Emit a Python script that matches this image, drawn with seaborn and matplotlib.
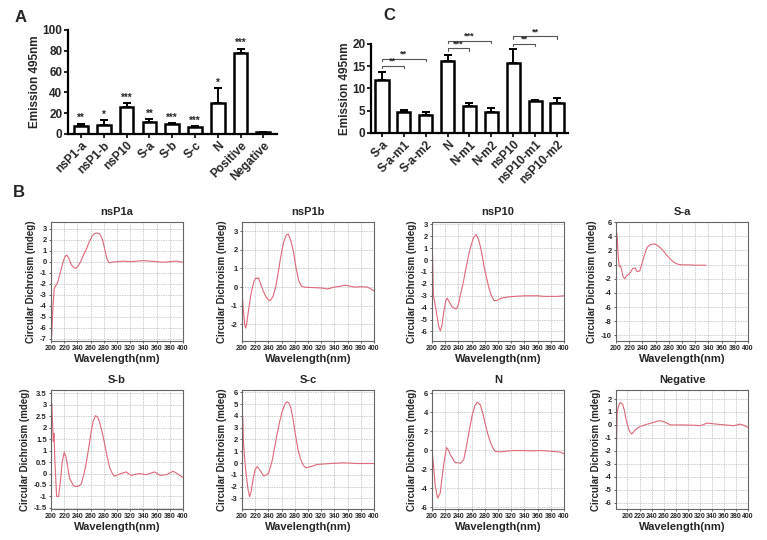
import numpy as np
import pandas as pd
import matplotlib
matplotlib.use("Agg")
import matplotlib.pyplot as plt
import seaborn as sns

# ---- Panel A data ----
a_labels = ["nsP1-a", "nsP1-b", "nsP10", "S-a", "S-b", "S-c", "N", "Positive", "Negative"]
a_means = [8.0, 9.0, 25.5, 11.5, 9.5, 6.5, 29.5, 78.0, 1.5]
a_errs = [2.0, 4.0, 4.0, 3.0, 1.0, 1.0, 14.5, 4.0, 0.5]
a_stars = ["**", "*", "***", "**", "***", "***", "*", "***", ""]

# ---- Panel C data ----
c_labels = ["S-a", "S-a-m1", "S-a-m2", "N", "N-m1", "N-m2", "nsP10", "nsP10-m1", "nsP10-m2"]
c_means = [12.0, 4.8, 4.0, 16.2, 6.0, 4.8, 15.8, 7.1, 6.7]
c_errs = [1.7, 0.3, 0.7, 1.4, 0.8, 0.9, 3.0, 0.4, 1.2]
c_pairs = [(0, 1), (0, 2), (3, 4), (3, 5), (6, 7), (6, 8)]
c_bracket_y = [15.0, 16.6, 19.0, 20.7, 20.0, 21.7]
c_bracket_stars = ["**", "**", "***", "***", "**", "**"]

# ---- Panel B data (CD spectra) ----
nsp1a_wl = [201, 203, 205, 207, 209, 211, 214, 218, 221, 224, 227, 231, 235, 238, 241, 245, 250, 254, 258,
            262, 266, 270, 274, 278, 282, 285, 288, 292, 300, 310, 320, 330, 340, 350, 360, 370, 380, 390, 400]
nsp1a_cd = [-6.8, -4.0, -2.4, -2.2, -2.0, -1.7, -1.0, -0.1, 0.45, 0.6, 0.3, -0.3, -0.55, -0.6, -0.4, 0.0, 0.7,
            1.2, 1.8, 2.3, 2.55, 2.6, 2.5, 2.0, 1.0, 0.2, -0.1, -0.05, 0.0, 0.05, 0.0, 0.05, 0.1, 0.05, 0.0,
            -0.05, 0.0, 0.05, -0.05]

nsp1b_wl = [200, 202, 204, 205.5, 207, 210, 214, 218, 221, 223, 225, 228, 232, 236, 240, 243, 247, 251, 255,
            259, 263, 267, 270, 274, 278, 282, 286, 290, 294, 300, 310, 320, 330, 340, 350, 355, 360, 370, 380,
            390, 395, 400]
nsp1b_cd = [-0.3, -1.2, -2.0, -2.2, -2.0, -1.2, -0.3, 0.3, 0.5, 0.45, 0.5, 0.2, -0.2, -0.5, -0.7, -0.72, -0.5,
            0.0, 0.8, 1.7, 2.4, 2.8, 2.85, 2.5, 1.9, 1.0, 0.35, 0.05, 0.0, -0.02, -0.03, -0.05, -0.1, 0.0, 0.05,
            0.1, 0.08, 0.0, 0.02, 0.0, -0.1, -0.2]

nsp10_wl = [200, 201, 202, 204, 207, 210, 212.5, 215, 218, 221, 223, 226, 230, 234, 237, 240, 244, 247, 251,
            255, 259, 263, 267, 270, 273, 276, 279, 282, 286, 290, 294, 298, 305, 315, 325, 340, 350, 360, 370,
            380, 390, 400]
nsp10_cd = [1.1, 0.0, -2.9, -3.5, -4.5, -5.5, -5.95, -5.5, -4.3, -3.4, -3.2, -3.5, -3.9, -4.05, -4.1, -3.7,
            -2.7, -2.0, -0.8, 0.3, 1.2, 1.9, 2.15, 1.8, 1.2, 0.4, -0.6, -1.3, -2.3, -3.0, -3.4, -3.4, -3.2, -3.1,
            -3.05, -3.0, -3.0, -3.0, -3.05, -3.05, -3.05, -3.0]

sa_wl = [200, 200.5, 201, 202, 203.5, 205, 207, 209, 211, 213.5, 216, 219, 222, 225, 229, 232, 236, 239, 242,
         245, 248, 252, 256, 260, 264, 268, 272, 276, 280, 284, 288, 292, 296, 300, 310, 320, 330, 336]
sa_cd = [-7.0, 0.0, 4.4, 3.5, 1.0, -0.3, -0.2, -1.0, -1.8, -2.0, -1.6, -1.4, -1.1, -0.6, -0.5, -1.0, -0.9, 0.0,
         1.0, 1.9, 2.5, 2.8, 2.9, 2.85, 2.6, 2.3, 1.9, 1.4, 1.0, 0.6, 0.3, 0.1, 0.0, -0.05, -0.05, -0.1, -0.1,
         -0.1]

sb_wl = [200, 201, 202, 203.5, 204.5, 206, 208.5, 211.5, 214, 217, 220, 223, 228, 234, 238, 242, 246, 250, 253,
         257, 261, 264, 267.5, 271, 274, 278, 281, 285, 289, 293, 296, 304, 314, 321, 334, 344, 357, 365, 375,
         385, 392, 400]
sb_cd = [2.0, 3.07, 2.5, 1.4, 1.75, 0.5, -1.0, -1.0, -0.4, 0.5, 0.93, 0.7, -0.2, -0.53, -0.57, -0.55, -0.45,
         0.0, 0.38, 1.1, 1.85, 2.3, 2.53, 2.45, 2.2, 1.75, 1.33, 0.75, 0.24, 0.0, -0.12, -0.02, 0.07, -0.08,
         0.0, -0.05, 0.07, -0.08, -0.05, 0.1, -0.02, -0.17]

sc_wl = [200, 201, 202, 203.5, 206, 209, 211.5, 214, 217, 220, 223, 228, 233, 237, 240.5, 245.5, 249, 253, 257,
         261, 265, 268, 271, 274, 277, 281, 285, 289, 293, 297, 301, 307, 314, 334, 354, 375, 400]
sc_cd = [1.3, 4.0, 2.0, 0.7, -0.8, -2.2, -2.85, -2.4, -1.3, -0.55, -0.3, -0.68, -1.1, -1.0, -0.83, 0.16, 1.2,
         2.4, 3.5, 4.4, 5.0, 5.2, 5.1, 4.7, 3.8, 2.4, 1.1, 0.3, -0.2, -0.4, -0.35, -0.25, -0.12, -0.04, 0.02,
         -0.04, -0.04]

n_wl = [200, 202, 205, 208.5, 212.5, 215, 218, 222, 225, 228, 235, 243, 248, 251, 254, 257, 261, 265, 268.5,
        273, 277, 281, 285, 289, 293, 296, 304, 324, 349, 365, 385, 395, 400]
n_cd = [0.0, -1.4, -3.8, -5.05, -4.5, -3.0, -1.37, 0.28, 0.0, -0.5, -1.3, -1.37, -1.0, 0.0, 1.09, 2.3, 3.72,
        4.7, 5.05, 4.8, 3.9, 2.67, 1.6, 0.74, 0.15, -0.14, -0.17, -0.03, -0.07, -0.04, -0.14, -0.2, -0.39]

neg_wl = [181, 182, 183, 185.5, 188, 192, 195, 197.5, 203, 207, 211, 214, 222, 233, 244, 250, 255, 263, 271,
          288, 310, 321, 332, 348, 365, 376, 387, 395, 400]
neg_cd = [-5.5, -1.0, 1.0, 1.5, 1.74, 1.6, 1.1, 0.45, -0.45, -0.7, -0.5, -0.32, -0.1, 0.06, 0.2, 0.3, 0.32, 0.2,
          0.0, 0.0, -0.02, -0.06, 0.14, 0.06, -0.01, -0.06, 0.06, -0.06, -0.2]

cd_titles = ["nsP1a", "nsP1b", "nsP10", "S-a", "S-b", "S-c", "N", "Negative"]
cd_wls = [nsp1a_wl, nsp1b_wl, nsp10_wl, sa_wl, sb_wl, sc_wl, n_wl, neg_wl]
cd_vals = [nsp1a_cd, nsp1b_cd, nsp10_cd, sa_cd, sb_cd, sc_cd, n_cd, neg_cd]
cd_yticks = [np.arange(-7, 4, 1), np.arange(-2, 4, 1), np.arange(-6, 4, 1), np.arange(-10, 7, 2),
             np.arange(-1.5, 3.6, 0.5), np.arange(-3, 7, 1), np.arange(-6, 7, 2), np.arange(-6, 3, 1)]
cd_ylims = [(-7.2, 3.6), (-2.9, 3.5), (-6.8, 3.2), (-10.8, 6.0), (-1.55, 3.65), (-3.9, 6.2), (-6.2, 6.35),
            (-6.5, 2.7)]
cd_xlims = [(200, 400)] * 7 + [(181, 400)]

sns.set_theme(style="ticks")
plt.rcParams["font.family"] = ["Liberation Sans", "DejaVu Sans"]
plt.rcParams["font.weight"] = "bold"

W, H = 767, 540
fig = plt.figure(figsize=(W / 100, H / 100), dpi=100)


def px_axes(left, top, width, height):
    return fig.add_axes([left / W, 1 - (top + height) / H, width / W, height / H])


def bar_panel(ax, labels, means, errs, width):
    df = pd.DataFrame({"name": labels, "value": means})
    sns.barplot(data=df, x="name", y="value", ax=ax, color="white", edgecolor="black",
                linewidth=1.8, width=width, errorbar=None)
    x = np.arange(len(labels))
    ax.errorbar(x, means, yerr=[np.zeros(len(errs)), errs], fmt="none", ecolor="black",
                elinewidth=1.4, capsize=3, capthick=1.4)
    for s in ["top", "right"]:
        ax.spines[s].set_visible(False)
    for s in ["left", "bottom"]:
        ax.spines[s].set_linewidth(1.6)
        ax.spines[s].set_color("black")
    ax.set_xlabel("")
    ax.set_ylabel("Emission 495nm", fontsize=8.5, fontweight="bold", labelpad=1)
    ax.tick_params(axis="both", width=1.4, length=3, pad=1)
    ax.set_xticks(x)
    ax.set_xticklabels(labels, rotation=45, ha="right", rotation_mode="anchor", fontsize=8.5,
                       fontweight="bold")


# ---- Panel A ----
axA = px_axes(68, 30, 209, 104)
bar_panel(axA, a_labels, a_means, a_errs, 0.6)
axA.set_ylim(0, 100)
axA.set_yticks([0, 20, 40, 60, 80, 100])
axA.set_yticklabels(["0", "20", "40", "60", "80", "100"], fontsize=8.5, fontweight="bold")
axA.set_xlim(-0.57, 8.6)
for i, s in enumerate(a_stars):
    if s:
        axA.text(i, a_means[i] + a_errs[i] + 0.5, s, ha="center", va="bottom", fontsize=7)

# ---- Panel C ----
axC = px_axes(371, 44, 197, 89)
bar_panel(axC, c_labels, c_means, c_errs, 0.6)
axC.set_ylim(0, 20)
axC.set_yticks([0, 5, 10, 15, 20])
axC.set_yticklabels(["0", "5", "10", "15", "20"], fontsize=8.5, fontweight="bold")
axC.set_xlim(-0.5, 8.5)
for (i, j), yb, s in zip(c_pairs, c_bracket_y, c_bracket_stars):
    axC.plot([i, i, j, j], [yb - 0.5, yb, yb, yb - 0.5], color="#555555", lw=0.8, clip_on=False)
    axC.text((i + j) / 2, yb + 0.05, s, ha="center", va="bottom", fontsize=6.5, clip_on=False)

# ---- Panel B ----
cd_lefts = [51, 242, 432, 616]
cd_tops = [222, 390]
for k in range(8):
    r, c = divmod(k, 4)
    ax = px_axes(cd_lefts[c], cd_tops[r], 132, 119)
    sns.lineplot(x=cd_wls[k], y=cd_vals[k], ax=ax, color="#e06878", lw=0.8, sort=False)
    ax.set_xlim(*cd_xlims[k])
    ax.set_ylim(*cd_ylims[k])
    ax.set_xticks(np.arange(200, 401, 20))
    ax.set_xticklabels([str(v) for v in range(200, 401, 20)], fontsize=5, fontweight="bold")
    ax.set_yticks(cd_yticks[k])
    ax.set_yticklabels([f"{v:g}" for v in cd_yticks[k]], fontsize=5.5, fontweight="bold")
    ax.grid(True, color="#b8b8b8", linestyle=(0, (2, 1.5)), lw=0.5)
    ax.tick_params(axis="both", length=1.5, width=0.5, pad=1.5)
    for s in ax.spines.values():
        s.set_color("#666666")
        s.set_linewidth(0.8)
    ax.set_title(cd_titles[k], fontsize=8, fontweight="bold", pad=5)
    ax.set_ylabel("Circular Dichroism (mdeg)", fontsize=7, fontweight="bold", labelpad=3)
    ax.set_xlabel("Wavelength(nm)", fontsize=8, fontweight="bold", labelpad=1)

fig.text(15 / W, 1 - 18 / H, "A", fontsize=12, fontweight="bold", va="center", ha="left")
fig.text(383 / W, 1 - 15 / H, "C", fontsize=12, fontweight="bold", va="center", ha="left")
fig.text(13 / W, 1 - 192 / H, "B", fontsize=12, fontweight="bold", va="center", ha="left")

fig.savefig("out.png", dpi=100, facecolor="white")
